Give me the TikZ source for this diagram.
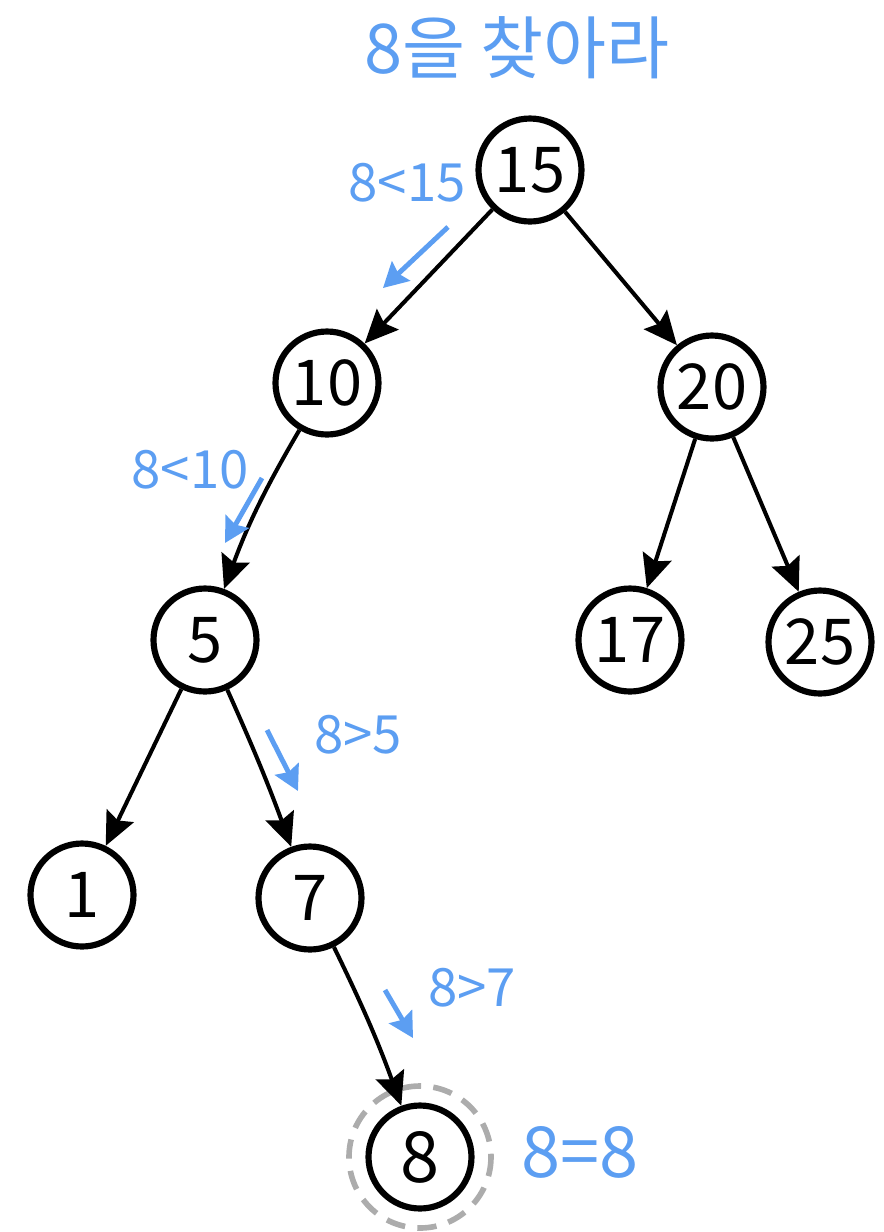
\documentclass[tikz,border=0pt]{standalone}
\usepackage{fontspec}
\setmainfont{Noto Sans CJK KR}
\usetikzlibrary{arrows.meta}
\definecolor{hintblue}{RGB}{92,158,242}
\definecolor{ringgray}{RGB}{172,172,172}
\tikzset{key node/.style={draw, circle, line width=3.5pt, minimum size=20.6mm, inner sep=0pt, font=\fontsize{36}{36}\selectfont}}
\tikzset{tree edge/.style={-{Stealth[length=19pt,width=17pt,inset=3pt]}, line width=2.3pt}}
\tikzset{hint/.style={-{Stealth[length=14pt,width=15pt,inset=2pt]}, line width=2.8pt, hintblue}}
\tikzset{hint text/.style={text=hintblue, font=\fontsize{30}{30}\selectfont}}

\begin{document}
\begin{tikzpicture}[x=0.2mm, y=-0.2mm]
\useasboundingbox (0,0) rectangle (884,1232);
\node[hint text, font=\fontsize{39}{39}\selectfont] (title) at (517,48) {8을 찾아라};
\node[key node] (n15) at (530,170) {15};
\node[key node] (n10) at (327,383) {10};
\node[key node] (n20) at (712,387) {20};
\node[key node] (n5) at (205,640) {5};
\node[key node] (n17) at (630,640) {17};
\node[key node] (n25) at (820,642) {25};
\node[key node] (n1) at (82,895) {1};
\node[key node] (n7) at (310,898) {7};
\node[key node, font=\fontsize{40}{40}\selectfont] (n8) at (420,1157) {8};
\draw[ringgray, line width=3.2pt, dash pattern=on 11pt off 7pt] (n8.center) circle (71);
\draw[tree edge] (n15) -- (n10);
\draw[tree edge] (n15) -- (n20);
\draw[tree edge] (n10) to[bend right=5] (n5);
\draw[tree edge] (n20) -- (n17);
\draw[tree edge] (n20) -- (n25);
\draw[tree edge] (n5) -- (n1);
\draw[tree edge] (n5) to[bend left=2] (n7);
\draw[tree edge] (n7) to[bend left=3] (n8);
\coordinate (a1) at (448,227);
\coordinate (b1) at (383,288);
\coordinate (a2) at (262,478);
\coordinate (b2) at (225,543);
\coordinate (a3) at (267,730);
\coordinate (b3) at (298,791);
\coordinate (a4) at (385,990);
\coordinate (b4) at (413,1038);
\draw[hint] (a1) -- (b1);
\draw[hint] (a2) -- (b2);
\draw[hint] (a3) -- (b3);
\draw[hint] (a4) -- (b4);
\node[hint text] (c1) at (407,183) {8<15};
\node[hint text] (c2) at (190,470) {8<10};
\node[hint text] (c3) at (358,735) {8>5};
\node[hint text] (c4) at (472,988) {8>7};
\node[hint text, font=\fontsize{40}{40}\selectfont] (c5) at (580,1152) {8=8};
\end{tikzpicture}
\end{document}
